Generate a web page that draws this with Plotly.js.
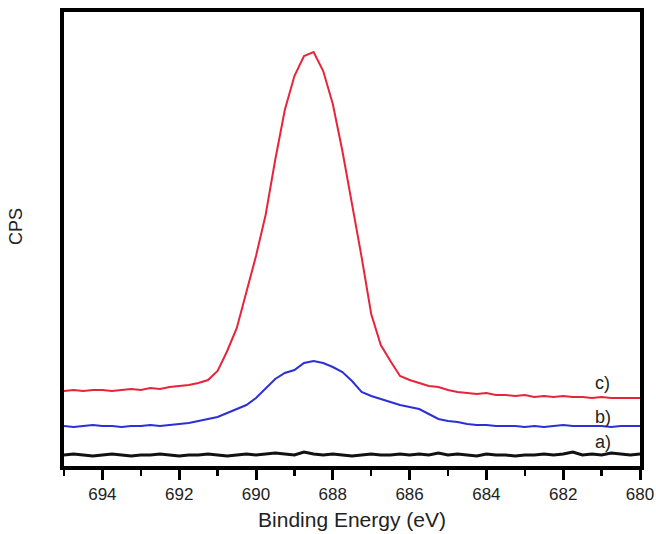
<!DOCTYPE html>
<html>
<head>
<meta charset="utf-8">
<script src="https://cdn.plot.ly/plotly-3.0.1.min.js"></script>
<style>html,body{margin:0;padding:0;background:#fff;}#chart{width:656px;height:534px;}</style>
</head>
<body>
<div id="chart"></div>
<script>
// Binding energy (eV), 695 -> 680 in 0.25 eV steps
const energy = [];
for (let i = 0; i <= 60; i++) energy.push(695 - i * 0.25);

// a) black trace (CPS, arbitrary units)
const seriesA = [11,12,11,10,11,12,11,10,11,11,12,11,10,11,11,12,11,10,11,12,11,12,13,12,11,14,12,11,12,11,10,11,12,11,11,12,11,12,11,13,11,12,11,10,12,11,11,10,11,11,12,11,12,14,11,12,11,13,12,11,12];
// b) blue trace
const seriesB = [40,39,40,41,40,40,39,40,40,41,40,41,42,43,45,47,49,53,57,61,68,78,87,93,96,103,105,103,99,94,85,74,70,67,64,61,59,57,52,47,45,44,42,41,41,40,40,40,39,40,39,40,41,40,40,40,40,39,40,40,40];
// c) red trace
const seriesC = [75,76,75,76,76,75,76,77,76,78,77,79,80,81,83,86,95,115,138,174,210,251,306,356,390,410,414,395,362,315,263,209,152,121,105,90,86,83,80,79,76,74,73,72,73,71,71,70,71,69,70,69,70,69,69,68,69,68,68,68,68];

const labels = ['a)', 'b)', 'c)'];
const labelY = [24, 49, 83];
const labelX = 680.97;

const FONT = 'Liberation Sans, Arial, sans-serif';

const traces = [
  {x: energy, y: seriesA, mode: 'lines', line: {color: '#111111', width: 3}, hoverinfo: 'skip'},
  {x: energy, y: seriesB, mode: 'lines', line: {color: '#2b2fd6', width: 2}, hoverinfo: 'skip'},
  {x: energy, y: seriesC, mode: 'lines', line: {color: '#e8243c', width: 2}, hoverinfo: 'skip'}
];

const annotations = labels.map((t, i) => ({
  x: labelX, y: labelY[i], xref: 'x', yref: 'y', text: t, showarrow: false,
  xanchor: 'center', yanchor: 'middle',
  font: {family: FONT, size: 18, color: '#222'}
}));
annotations.push({
  xref: 'paper', yref: 'paper', x: -0.082, y: 0.528, text: 'CPS', textangle: -90, showarrow: false,
  xanchor: 'center', yanchor: 'middle',
  font: {family: FONT, size: 18, color: '#222'}
});

const layout = {
  width: 656, height: 534,
  margin: {l: 64, r: 16, t: 12, b: 68},
  paper_bgcolor: '#fff', plot_bgcolor: '#fff',
  showlegend: false,
  xaxis: {
    range: [695, 680], autorange: false,
    tickvals: [694, 692, 690, 688, 686, 684, 682, 680],
    ticks: 'outside', ticklen: 10, tickwidth: 3, tickcolor: '#000',
    minor: {tickvals: [695, 693, 691, 689, 687, 685, 683, 681], ticks: 'outside', ticklen: 6, tickwidth: 2.5, tickcolor: '#000'},
    showline: true, linewidth: 4, linecolor: '#000', mirror: true,
    showgrid: false, zeroline: false,
    tickfont: {family: FONT, size: 17, color: '#222'},
    title: {text: 'Binding Energy (eV)', standoff: 10, font: {family: FONT, size: 21, color: '#222'}}
  },
  yaxis: {
    range: [0, 454], autorange: false,
    showticklabels: false, ticks: '',
    showline: true, linewidth: 4, linecolor: '#000', mirror: true,
    showgrid: false, zeroline: false
  },
  annotations: annotations
};

Plotly.newPlot('chart', traces, layout, {displayModeBar: false, staticPlot: true});
</script>
</body>
</html>
